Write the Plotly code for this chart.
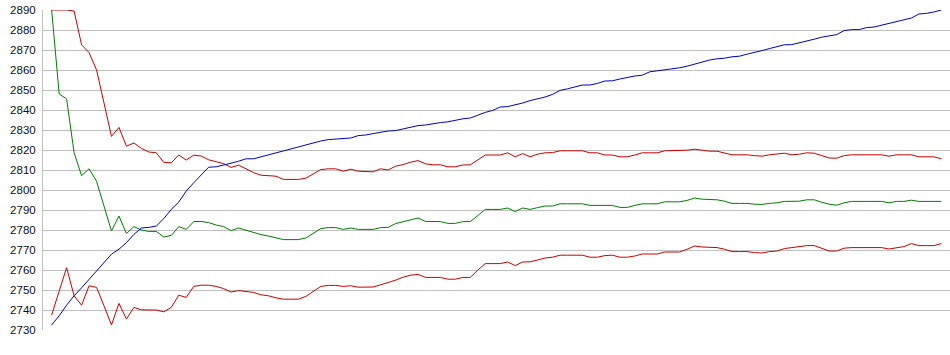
import plotly.graph_objects as go

# Sample index (no x labels shown on the chart)
n_points = 120
x_index = list(range(n_points))

# Y-axis tick values
y_ticks = list(range(2730, 2891, 10))

blue_series = [
    2732.5, 2737.1, 2742.4, 2747.1, 2751.1, 2755.4, 2759.6, 2763.7, 2767.9, 2770.4,
    2773.7, 2777.8, 2781.0, 2781.3, 2782.0, 2785.7, 2790.3, 2794.0, 2799.5, 2803.6,
    2807.4, 2811.4, 2811.6, 2812.4, 2813.4, 2814.4,
    2815.6, 2815.6, 2816.6, 2817.6, 2818.6, 2819.6, 2820.5, 2821.5, 2822.5, 2823.5,
    2824.5, 2825.2, 2825.5, 2825.5, 2826.0, 2827.2, 2827.5, 2828.2, 2828.8, 2829.5,
    2829.7, 2830.5, 2831.2, 2832.2, 2832.5, 2833.2, 2833.7, 2834.1, 2835.0, 2835.6,
    2836.0, 2837.6, 2838.8, 2839.8, 2841.5, 2841.7, 2842.5, 2843.5, 2844.7, 2845.6,
    2846.5, 2847.8, 2849.8, 2850.6, 2851.5, 2852.5, 2852.5, 2853.3, 2854.5, 2854.6,
    2855.5, 2856.3, 2857.0, 2857.4, 2859.1, 2859.6, 2860.1, 2860.4, 2861.1, 2861.9,
    2862.9, 2863.9, 2865.0,
    2865.6, 2865.9, 2866.6, 2866.9, 2867.9, 2868.7, 2869.7, 2870.7, 2871.7, 2872.6,
    2872.7, 2873.5, 2874.4, 2875.4, 2876.4, 2877.2, 2877.7, 2879.7, 2880.2, 2880.2,
    2881.2, 2881.5, 2882.4, 2883.2, 2884.0, 2884.9, 2886.0, 2888.0, 2888.3, 2889.0,
    2890.0,
]

green_series = [
    2890.0, 2848.1, 2845.5, 2818.6, 2807.2, 2810.6, 2804.4, 2792.5, 2779.5, 2787.0,
    2778.2, 2781.7, 2780.0, 2779.3, 2779.3, 2776.5, 2777.3, 2781.7, 2780.3, 2784.2,
    2784.3, 2783.7, 2782.5, 2781.7, 2779.7, 2781.0,
    2779.8, 2778.7, 2777.7, 2777.0, 2776.0, 2775.2, 2775.2, 2775.2, 2776.0, 2778.3,
    2780.7, 2781.2, 2781.2, 2780.3, 2781.0, 2780.3, 2780.2, 2780.3, 2781.2, 2781.3,
    2783.2, 2784.2, 2785.2, 2786.0, 2784.3, 2784.2, 2784.2, 2783.3, 2783.3, 2784.2,
    2784.2, 2787.2, 2790.3, 2790.3, 2790.3, 2791.0, 2789.2, 2791.0, 2790.3, 2791.2,
    2792.0, 2792.0, 2793.1, 2793.1, 2793.1, 2793.1, 2792.3, 2792.3, 2792.3, 2792.3,
    2791.3, 2791.3, 2792.3, 2793.1, 2793.1, 2793.1, 2794.1, 2794.1, 2794.1, 2794.8,
    2796.0, 2795.4, 2795.1,
    2795.1, 2794.4, 2793.3, 2793.3, 2793.3, 2792.9, 2792.8, 2793.3, 2793.6, 2794.3,
    2794.3, 2794.4, 2795.1, 2795.1, 2793.9, 2792.9, 2792.4, 2793.6, 2794.3, 2794.3,
    2794.3, 2794.3, 2794.3, 2793.6, 2794.3, 2794.3, 2794.9, 2794.3, 2794.3, 2794.3,
    2794.3,
]

red_upper_series = [
    2890.0, 2890.0, 2890.0, 2889.5, 2872.6, 2868.7, 2860.1, 2843.5, 2826.8, 2831.3,
    2821.9, 2823.5, 2820.8, 2819.0, 2818.6, 2813.8, 2813.6, 2817.5, 2815.0, 2817.4,
    2817.0, 2815.1, 2814.0, 2813.2, 2811.3, 2812.4,
    2810.6, 2808.7, 2807.4, 2807.2, 2806.9, 2805.3, 2805.3, 2805.3, 2805.9, 2808.2,
    2810.2, 2810.6, 2810.6, 2809.4, 2810.4, 2809.4, 2809.1, 2809.1, 2810.6, 2810.0,
    2811.9, 2812.7, 2813.9, 2814.7, 2813.1, 2812.6, 2812.6, 2811.6, 2811.6, 2812.5,
    2812.6, 2814.9, 2817.5, 2817.5, 2817.5, 2818.6, 2816.6, 2818.2, 2816.6, 2817.9,
    2818.6, 2818.7, 2819.6, 2819.6, 2819.6, 2819.6, 2818.6, 2818.6, 2817.5, 2817.5,
    2816.6, 2816.6, 2817.5, 2818.6, 2818.6, 2818.6, 2819.6, 2819.6, 2819.6, 2819.9,
    2820.4, 2819.9, 2819.4,
    2819.4, 2818.6, 2817.6, 2817.6, 2817.6, 2817.2, 2816.9, 2817.6, 2817.9, 2818.4,
    2817.6, 2817.9, 2818.6, 2818.4, 2817.2, 2816.0, 2815.9, 2817.2, 2817.6, 2817.6,
    2817.6, 2817.6, 2817.6, 2816.9, 2817.6, 2817.6, 2817.6, 2816.6, 2816.6, 2816.6,
    2815.6,
]

red_lower_series = [
    2737.5, 2748.8, 2761.2, 2747.1, 2742.4, 2752.1, 2751.3, 2742.1, 2732.5, 2743.3,
    2735.5, 2741.3, 2740.1, 2740.0, 2740.0, 2739.1, 2741.3, 2747.4, 2746.3, 2751.8,
    2752.4, 2752.4, 2751.8, 2750.7, 2749.0, 2749.7,
    2749.3, 2748.8, 2747.6, 2747.1, 2746.1, 2745.4, 2745.4, 2745.4, 2746.8, 2749.4,
    2751.8, 2752.3, 2752.3, 2751.8, 2752.1, 2751.4, 2751.4, 2751.5, 2752.6, 2753.6,
    2754.9, 2756.4, 2757.4, 2757.8, 2756.3, 2756.3, 2756.3, 2755.4, 2755.4, 2756.3,
    2756.3, 2760.0, 2763.2, 2763.2, 2763.2, 2764.0, 2762.2, 2764.0, 2764.1, 2765.0,
    2766.0, 2766.4, 2767.4, 2767.4, 2767.4, 2767.4, 2766.4, 2766.4, 2767.2, 2767.4,
    2766.4, 2766.4, 2767.0, 2768.0, 2768.0, 2768.0, 2769.0, 2769.0, 2769.0, 2770.4,
    2772.0, 2771.5, 2771.2,
    2771.2, 2770.4, 2769.2, 2769.2, 2769.2, 2768.7, 2768.5, 2769.2, 2769.5, 2770.7,
    2771.2, 2771.5, 2772.2, 2772.2, 2770.7, 2769.5, 2769.5, 2770.9, 2771.2, 2771.2,
    2771.2, 2771.2, 2771.2, 2770.5, 2771.2, 2771.7, 2773.2, 2772.2, 2772.2, 2772.2,
    2773.2,
]

for s in (blue_series, green_series, red_upper_series, red_lower_series):
    assert len(s) == n_points, len(s)

RED = "#CC0000"
GREEN = "#008000"
BLUE = "#0000CC"

fig = go.Figure()
fig.add_trace(go.Scatter(x=x_index, y=red_upper_series, mode="lines",
                         line=dict(color=RED, width=1), name="upper"))
fig.add_trace(go.Scatter(x=x_index, y=red_lower_series, mode="lines",
                         line=dict(color=RED, width=1), name="lower"))
fig.add_trace(go.Scatter(x=x_index, y=green_series, mode="lines",
                         line=dict(color=GREEN, width=1), name="mean"))
fig.add_trace(go.Scatter(x=x_index, y=blue_series, mode="lines",
                         line=dict(color=BLUE, width=1), name="trend"))

fig.update_layout(
    width=950, height=355,
    margin=dict(l=43, r=0, t=10, b=25, pad=0, autoexpand=False),
    paper_bgcolor="white", plot_bgcolor="white",
    showlegend=False,
    font=dict(family="Arial", size=11, color="#111111"),
    xaxis=dict(range=[-1.16, 120.16], showgrid=False, zeroline=False, automargin=False,
               showticklabels=False, ticks="", showline=False, fixedrange=True),
    yaxis=dict(range=[2730, 2890], tickvals=y_ticks, ticktext=[str(v) for v in y_ticks],
               showgrid=True, gridcolor="#C0C0C0", gridwidth=1, zeroline=False,
               showline=True, linecolor="#C0C0C0", linewidth=1, automargin=False,
               tickfont=dict(family="Arial", size=11.5, color="#111111"),
               ticks="", ticklabelstandoff=4, fixedrange=True),
)

# Remove the default 8px page margin so the figure sits at the window's corner
fig.write_html(
    "out.html",
    config={"displayModeBar": False, "staticPlot": True},
    post_script="document.body.style.margin='0';document.body.style.overflow='hidden';",
)
